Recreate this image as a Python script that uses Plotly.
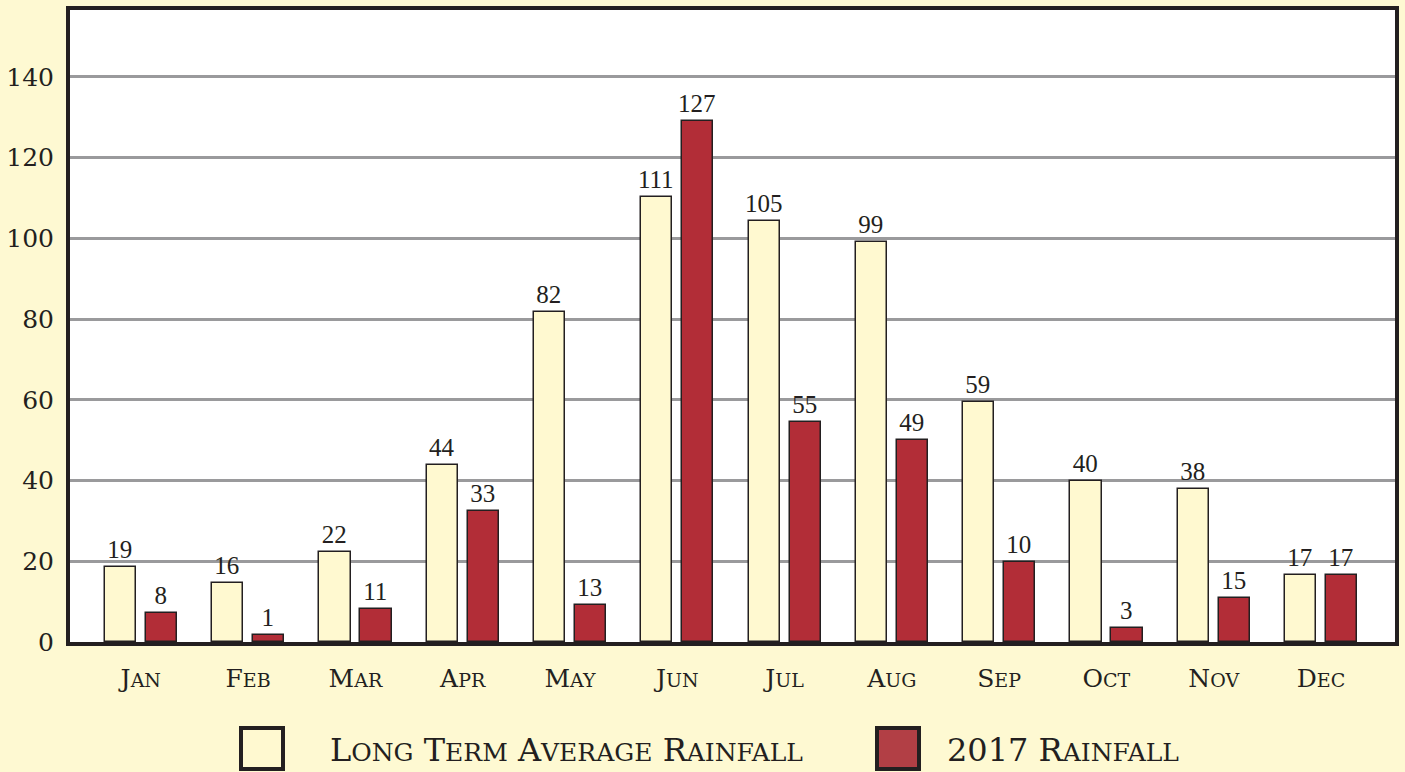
import plotly.graph_objects as go

months = ["Jan", "Feb", "Mar", "Apr", "May", "Jun", "Jul", "Aug", "Sep", "Oct", "Nov", "Dec"]
avg_heights = [18.6, 14.7, 22.3, 43.9, 81.8, 110.3, 104.3, 99.1, 59.5, 39.9, 37.9, 16.7]
avg_labels = ["19", "16", "22", "44", "82", "111", "105", "99", "59", "40", "38", "17"]
y2017_heights = [7.2, 1.7, 8.2, 32.5, 9.2, 129.1, 54.5, 50.0, 19.8, 3.5, 10.9, 16.7]
y2017_labels = ["8", "1", "11", "33", "13", "127", "55", "49", "10", "3", "15", "17"]
y_ticks = [0, 20, 40, 60, 80, 100, 120, 140]

NUMFONT = "Liberation Serif"
CAPFONT = "DejaVu Serif"
INK = "#231f20"
BG = "#fef9d2"
CREAM = "#fff9d0"
RED = "#b22d37"


def small_caps(word, small):
    return word[0].upper() + "<span style='font-size:%dpx'>%s</span>" % (small, word[1:].upper())


xs = list(range(len(months)))
tick_text = [small_caps(m, 19) for m in months]

fig = go.Figure()
fig.add_trace(go.Bar(
    x=xs, y=avg_heights, text=avg_labels, textposition="outside",
    width=0.29, offset=-0.335,
    marker=dict(color=CREAM, line=dict(color=INK, width=1.5)),
    textfont=dict(family=NUMFONT, size=25, color=INK),
    cliponaxis=False, showlegend=False,
))
fig.add_trace(go.Bar(
    x=xs, y=y2017_heights, text=y2017_labels, textposition="outside",
    width=0.29, offset=0.047,
    marker=dict(color=RED, line=dict(color=INK, width=1.5)),
    textfont=dict(family=NUMFONT, size=25, color=INK),
    cliponaxis=False, showlegend=False,
))

fig.update_layout(
    width=1405, height=772,
    margin=dict(l=70, r=10, t=10, b=130),
    paper_bgcolor=BG, plot_bgcolor="white",
    font=dict(family=NUMFONT, color=INK),
    bargap=0,
    uniformtext=dict(minsize=25, mode="show"),
    xaxis=dict(
        range=[-0.66, 11.69], tickmode="array", tickvals=xs, ticktext=tick_text,
        tickfont=dict(family=CAPFONT, size=25, color=INK), ticks="", showgrid=False,
        ticklabelstandoff=11, automargin=False,
        showline=True, linecolor=INK, linewidth=4, mirror=True, zeroline=False,
    ),
    yaxis=dict(
        range=[0, 156.6], tickmode="array", tickvals=y_ticks,
        tickfont=dict(family=CAPFONT, size=25, color=INK), ticks="",
        ticklabelstandoff=7, automargin=False,
        showgrid=True, gridcolor="#9a9a9c", gridwidth=2.5,
        showline=True, linecolor=INK, linewidth=4, mirror=True, zeroline=False,
    ),
)


def px_x(p):
    return (p - 70) / 1325.0


def px_y(p):
    return (642 - p) / 632.0


fig.add_shape(type="rect", xref="paper", yref="paper",
              x0=px_x(241), x1=px_x(283), y0=px_y(769), y1=px_y(728),
              fillcolor=CREAM, line=dict(color=INK, width=4))
fig.add_shape(type="rect", xref="paper", yref="paper",
              x0=px_x(877), x1=px_x(919), y0=px_y(769), y1=px_y(728),
              fillcolor="#b23f45", line=dict(color=INK, width=4))

legend1 = " ".join(small_caps(w, 25) for w in ["Long", "Term", "Average", "Rainfall"])
legend2 = "2017 " + small_caps("Rainfall", 25)
fig.add_annotation(xref="paper", yref="paper", x=px_x(328), y=px_y(750), text=legend1,
                   showarrow=False, xanchor="left", yanchor="middle",
                   font=dict(family=CAPFONT, size=32, color=INK))
fig.add_annotation(xref="paper", yref="paper", x=px_x(945), y=px_y(750), text=legend2,
                   showarrow=False, xanchor="left", yanchor="middle",
                   font=dict(family=CAPFONT, size=32, color=INK))

fig.write_html("out.html", config={"displayModeBar": False},
               post_script="document.body.style.margin='0';document.body.style.overflow='hidden';")
